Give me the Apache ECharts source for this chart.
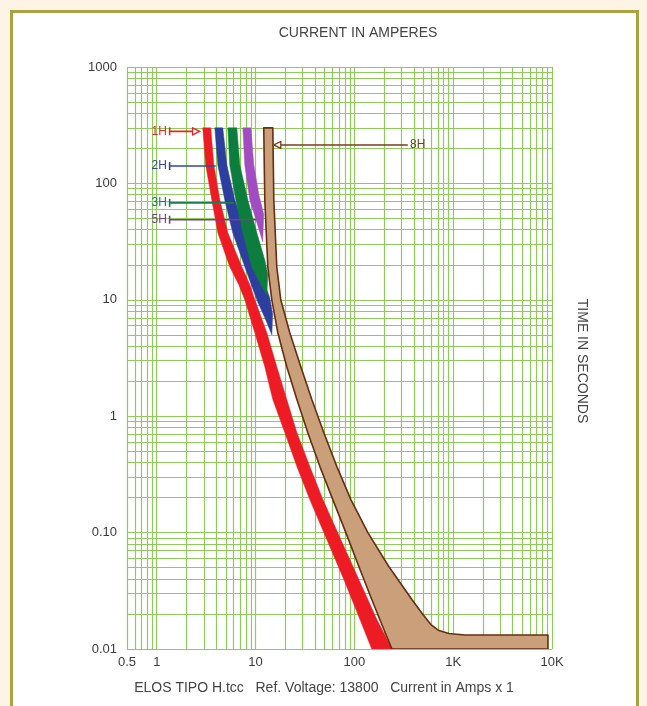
<!DOCTYPE html>
<html><head><meta charset="utf-8">
<script src="https://cdn.jsdelivr.net/npm/echarts@6/dist/echarts.min.js"></script>
<style>html,body{margin:0;padding:0;background:#fdf4e6}#c{width:647px;height:706px}</style>
</head><body><div id="c"></div>
<script>
// Time-current curves: [current (A), time (s)]
const h1_minMelt = [[2.92,300],[3.13,144],[3.61,72],[4.15,37.6],[5.48,19.2],[6.77,13.5],[7.78,10],[9.83,5.21],[12.4,2.66],[14.95,1.39],[19.8,0.722],[26.2,0.369],[35.4,0.192],[52.7,0.087],[78.3,0.0395],[114,0.0179],[150,0.01]];
const h1_totalClear = [[3.52,300],[3.78,144],[4.35,72],[5.24,37.6],[7.26,19.2],[8.75,13.5],[9.83,10],[13.0,5.21],[16.4,2.66],[20.7,1.39],[26.2,0.722],[35.4,0.369],[48.0,0.192],[73.0,0.087],[111,0.0395],[169,0.0179],[240,0.01]];
const h2_minMelt = [[3.87,300],[4.15,144],[4.88,72],[5.88,37.6],[7.78,19.2],[10.3,10],[12.7,6.7],[14.6,5.0]];
const h2_totalClear = [[4.66,300],[5.12,144],[6.16,72],[8.15,37.6],[10.8,19.2],[13.9,10.4],[14.9,7.5]];
const h3_minMelt = [[5.24,300],[5.48,144],[6.31,72],[7.43,37.6],[9.16,19.2],[11.3,13.5],[13.0,11.0]];
const h3_totalClear = [[6.46,300],[6.93,144],[8.35,72],[10.3,37.6],[12.4,22],[13.3,16.4]];
const h5_minMelt = [[7.43,300],[7.78,144],[8.75,72],[10.5,44],[11.8,31.5]];
const h5_totalClear = [[8.95,300],[9.6,144],[10.8,80],[12.1,54]];
const h8_minMelt = [[12.1,300],[12.4,72],[13.3,19.2],[14.6,10],[16.8,5.21],[20.7,2.66],[26.2,1.39],[33.8,0.722],[44.8,0.369],[60.5,0.192],[82.0,0.1],[111,0.0511],[150,0.0266],[199,0.0147],[240,0.01],[9100,0.01]];
const h8_totalClear = [[14.95,300],[15.3,72],[16.4,19.2],[18.0,10],[22.2,5.21],[28.7,2.66],[37.1,1.39],[49.1,0.722],[66.5,0.369],[92.2,0.192],[137,0.1],[223,0.0511],[382,0.0266],[494,0.0198],[595,0.0162],[717,0.0144],[905,0.0136],[1315,0.0132],[9100,0.0132]];

// Fuse labels
const labelNames = ['1H','2H','3H','5H','8H'];
const labelTimes = [280, 141, 68, 48.7, 214];
const labelFrom = [1.35, 1.35, 1.35, 1.35, 16.6];
const labelTo = [2.5, 3.95, 6.0, 10.2, 345];

// Axis tick labels
const xTickLabels = {0.5:'0.5', 1:'1', 10:'10', 100:'100', 1000:'1K', 10000:'10K'};
const yTickLabels = {0.01:'0.01', 0.1:'0.10', 1:'1', 10:'10', 100:'100', 1000:'1000'};

// log-paper grid lines
const gridX = [0.5,0.6,0.7,0.8,0.9];
[1,10,100,1000].forEach(d=>{for(let m=1;m<=9;m++) gridX.push(+(m*d).toPrecision(3));});
gridX.push(10000);
const gridY = [];
[0.01,0.1,1,10,100].forEach(d=>{for(let m=1;m<=9;m++) gridY.push(+(m*d).toPrecision(3));});
gridY.push(1000);

const FONT = '"Liberation Sans", Arial, sans-serif';
const colors = {
  h1:'#ed1c24', h2:'#2d3f9e', h3:'#0d7d3d', h5:'#a24cc2', h8:'#c9a079', h8s:'#6a2c12'
};
const labelColors = ['#e5262b','#3446a0','#17804a','#7a3b96','#7b3b1e'];

function band(name, minArr, maxArr, fill, stroke, lw, z){
  const poly = minArr.concat(maxArr.slice().reverse());
  return {
    type:'custom', name, coordinateSystem:'cartesian2d', clip:true, z:z, silent:true,
    data:[poly[0]],
    renderItem:(params, api)=>({
      type:'polygon',
      shape:{points: poly.map(p=>api.coord(p))},
      style:{fill:fill, stroke:stroke, lineWidth:lw, lineJoin:'round'}
    })
  };
}

const labelSeries = labelNames.map((n,i)=>{
  const isRight = i===4;
  const start = {value:[labelFrom[i], labelTimes[i]]};
  const end = {value:[labelTo[i], labelTimes[i]]};
  if(!isRight){
    start.symbol='rect'; start.symbolSize=[1.6,8];
    start.label={show:true, position:'left', distance:2, formatter:n, color:labelColors[i], fontSize:12, fontFamily:FONT};
    if(i===0){ end.symbol='triangle'; end.symbolSize=[7,7]; end.symbolRotate=-90; end.itemStyle={color:'#fff', borderColor:labelColors[i], borderWidth:1.3}; }
    else { end.symbol='circle'; end.symbolSize=0.1; }
  } else {
    start.symbol='triangle'; start.symbolSize=[7,7]; start.symbolRotate=90; start.itemStyle={color:'#fff', borderColor:labelColors[i], borderWidth:1.3};
    end.symbol='circle'; end.symbolSize=1;
    end.label={show:true, position:'right', distance:2, formatter:n, color:labelColors[i], fontSize:12, fontFamily:FONT};
  }
  return {
    type:'line', name:n+' label', z:6, silent:true, showSymbol:true,
    itemStyle:{color:labelColors[i]},
    lineStyle:{color:labelColors[i], width:1.6},
    labelLayout:{hideOverlap:false},
    data:[start, end]
  };
});

const chart = echarts.init(document.getElementById('c'), null, {renderer:'canvas'});
chart.setOption({
  animation:false,
  backgroundColor:'#fdf4e6',
  grid:{left:127, right:95, top:67, bottom:57},
  xAxis:{
    type:'log', logBase:10, min:0.5, max:10000,
    axisLine:{show:false}, axisTick:{show:false}, splitLine:{show:false},
    axisLabel:{margin:7, color:'#3c3c3c', fontSize:13, fontFamily:FONT,
      showMinLabel:true, showMaxLabel:true,
      formatter:v=>{const k=Object.keys(xTickLabels).find(t=>Math.abs(+t-v)/v<1e-6); return k?xTickLabels[k]:'';}}
  },
  yAxis:{
    type:'log', logBase:10, min:0.01, max:1000,
    axisLine:{show:false}, axisTick:{show:false}, splitLine:{show:false},
    axisLabel:{margin:10, color:'#3c3c3c', fontSize:13, fontFamily:FONT,
      formatter:v=>{const k=Object.keys(yTickLabels).find(t=>Math.abs(+t-v)/v<1e-6); return k?yTickLabels[k]:'';}}
  },
  graphic:[
    {type:'rect', z:-10, silent:true, shape:{x:11.5, y:11.5, width:626, height:720},
      style:{fill:'#ffffff', stroke:'#aaa23e', lineWidth:3}},
    {type:'text', z:10, silent:true, x:358, y:33,
      style:{text:'CURRENT IN AMPERES', fill:'#444', font:'14px '+FONT, align:'center', verticalAlign:'middle'}},
    {type:'text', z:10, silent:true, x:582, y:361, rotation:-Math.PI/2,
      style:{text:'TIME IN SECONDS', fill:'#444', font:'14px '+FONT, align:'center', verticalAlign:'middle'}},
    {type:'text', z:10, silent:true, x:324, y:688,
      style:{text:'ELOS TIPO H.tcc   Ref. Voltage: 13800   Current in Amps x 1', fill:'#444', font:'14px '+FONT, align:'center', verticalAlign:'middle'}}
  ],
  series:[
    {type:'scatter', name:'grid', z:1, silent:true, symbolSize:0, data:[[1,1]],
      markLine:{z:1, silent:true, symbol:['none','none'], label:{show:false}, animation:false,
        lineStyle:{color:'#8fca5c', width:1.2, type:'solid'},
        emphasis:{disabled:true},
        data: gridX.map(v=>({xAxis:v})).concat(gridY.map(v=>({yAxis:v})))}},
    band('1H', h1_minMelt, h1_totalClear, colors.h1, colors.h1, 0.5, 3),
    band('2H', h2_minMelt, h2_totalClear, colors.h2, colors.h2, 0.5, 3),
    band('3H', h3_minMelt, h3_totalClear, colors.h3, colors.h3, 0.5, 3),
    band('5H', h5_minMelt, h5_totalClear, colors.h5, colors.h5, 0.5, 3),
    band('8H', h8_minMelt, h8_totalClear, colors.h8, colors.h8s, 1.6, 4)
  ].concat(labelSeries)
});
</script></body></html>
